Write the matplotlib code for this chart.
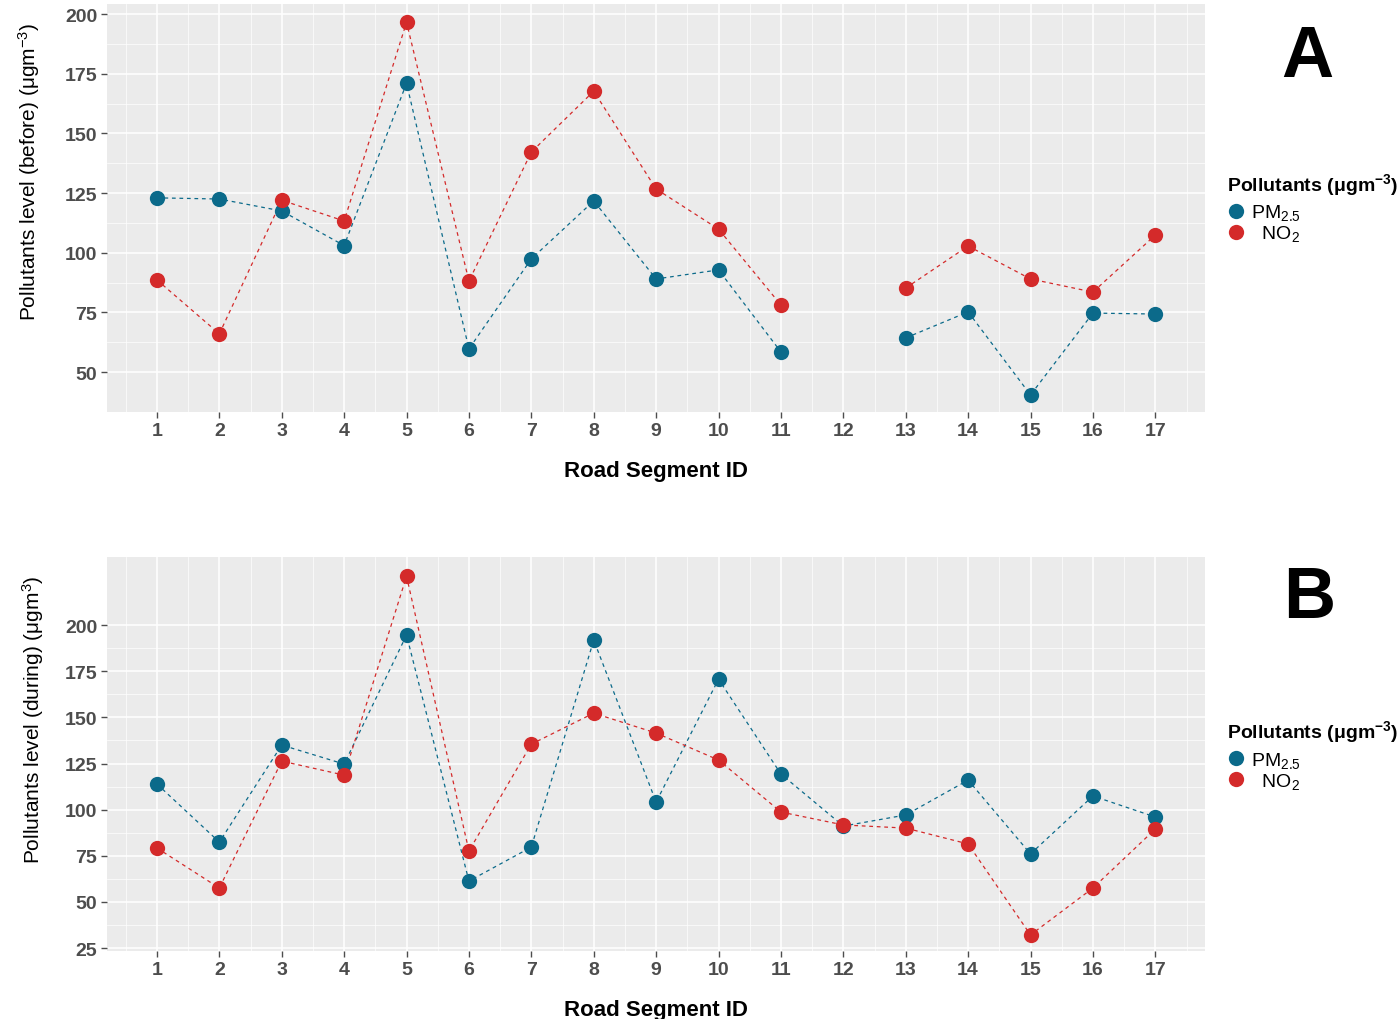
import matplotlib
matplotlib.use('Agg')
import matplotlib.pyplot as plt
import numpy as np

plt.rcParams['font.family'] = ['Liberation Sans', 'DejaVu Sans']
plt.rcParams['mathtext.fontset'] = 'custom'
plt.rcParams['mathtext.rm'] = 'Liberation Sans'
plt.rcParams['mathtext.it'] = 'Liberation Sans'
plt.rcParams['mathtext.bf'] = 'Liberation Sans:bold'

# road segment ids
segments = np.arange(1, 18)

# panel A: before
pm_before = [123, 122.5, 117.5, 103, 171, 59.7, 97.4, 121.7, 89, 92.8, 58.4, np.nan,
             64.3, 75.2, 40.4, 74.7, 74.3]
no2_before = [88.6, 66, 122, 113.3, 196.6, 88.1, 142.2, 167.7, 126.7, 109.9, 78.1, np.nan,
              85.2, 102.8, 89, 83.5, 107.4]

# panel B: during
pm_during = [113.9, 82.4, 135, 124.7, 194.6, 61.3, 79.7, 191.9, 104.1, 170.7, 119.3, 91.1,
             97.1, 116, 76, 107.4, 96]
no2_during = [79.2, 57.5, 126.3, 118.7, 226.5, 77.6, 135.5, 152.3, 141.5, 126.9, 98.7, 91.7,
              90, 81.4, 32.1, 57.5, 89.5]

c_pm = '#0B6A8A'
c_no2 = '#D42A2A'

fig = plt.figure(figsize=(13.99, 10.20), dpi=100)
axA = fig.add_axes([0.0765, 0.595, 0.785, 0.400])
axB = fig.add_axes([0.0765, 0.0667, 0.785, 0.386])


def style(ax, yticks, ylim, ylabel, lx):
    ax.set_facecolor('#EBEBEB')
    for s in ax.spines.values():
        s.set_visible(False)
    ax.set_xlim(0.2, 17.8)
    ax.set_ylim(*ylim)
    ax.set_xticks(segments)
    ax.set_xticks(np.arange(0.5, 18, 1), minor=True)
    ax.set_yticks(yticks)
    ax.set_yticks(np.array(yticks[:-1]) + 12.5, minor=True)
    ax.set_xticklabels([str(s) for s in segments], fontsize=14, fontweight='bold', color='#4D4D4D')
    ax.set_yticklabels([str(v) for v in yticks], fontsize=14, fontweight='bold', color='#4D4D4D')
    ax.tick_params(axis='both', which='major', length=4, width=1, color='#4D4D4D', pad=3)
    ax.tick_params(axis='both', which='minor', length=0)
    ax.grid(True, which='major', color='white', lw=1.1)
    ax.grid(True, which='minor', color='white', lw=0.5)
    ax.set_axisbelow(True)
    ax.set_xlabel('Road Segment ID', fontsize=16, fontweight='bold', labelpad=15)
    ax.set_ylabel(ylabel, fontsize=15)
    ax.yaxis.set_label_coords(lx, 0.59)


def draw(ax, pm, no2):
    ax.plot(segments, pm, color=c_pm, lw=0.9, ls=(0, (3, 3)))
    ax.plot(segments, no2, color=c_no2, lw=0.9, ls=(0, (3, 3)))
    ax.plot(segments, pm, 'o', color=c_pm, ms=11, mec='none', zorder=3, label=r'PM$_{2.5}$')
    ax.plot(segments, no2, 'o', color=c_no2, ms=11, mec='none', zorder=3, label=r'  NO$_{2}$')
    leg = ax.legend(loc='upper left', bbox_to_anchor=(1.013, 0.61), frameon=False,
                    title=r'Pollutants ($\mathbf{\mu gm^{-3}}$)', fontsize=14,
                    handletextpad=0.3, borderaxespad=0, labelspacing=0.05,
                    handlelength=0.9, alignment='left')
    leg.get_title().set_fontweight('bold')
    leg.get_title().set_fontsize(14)
    leg._legend_box.sep = 4


style(axA, [50, 75, 100, 125, 150, 175, 200], (33.2, 204.2),
      r'Pollutants level (before) ($\mathrm{\mu gm^{-3}}$)', -0.059)
draw(axA, pm_before, no2_before)

style(axB, [25, 50, 75, 100, 125, 150, 175, 200], (23.4, 236.8),
      r'Pollutants level (during) ($\mathrm{\mu gm^{3}}$)', -0.056)
draw(axB, pm_during, no2_during)

fig.text(0.9345, 0.943, 'A', fontsize=52, fontweight='bold', ha='center', va='center')
fig.text(0.9355, 0.413, 'B', fontsize=52, fontweight='bold', ha='center', va='center')

fig.savefig('out.png', dpi=100)
